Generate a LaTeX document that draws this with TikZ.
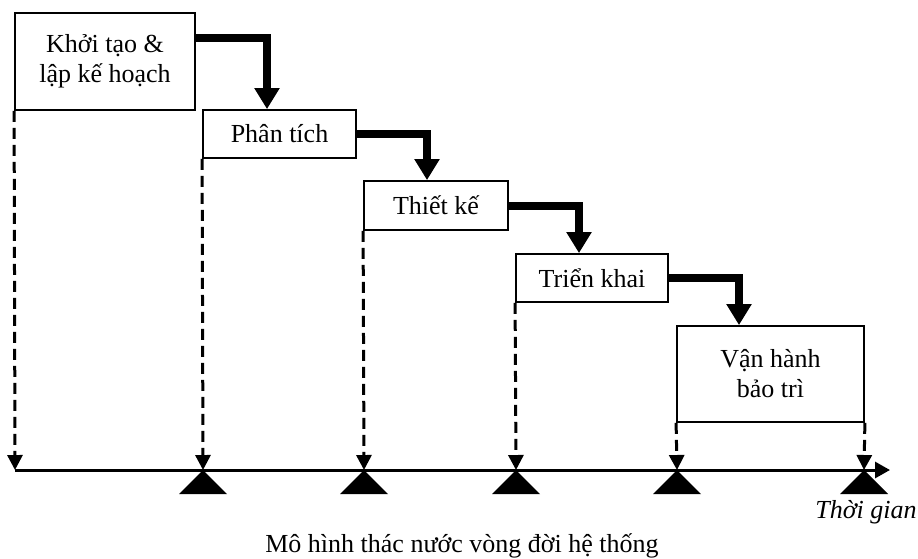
\documentclass[tikz,border=0pt]{standalone}
\usepackage{fontspec}
\setmainfont{Liberation Serif}
\usetikzlibrary{arrows.meta,positioning}

\begin{document}
\begin{tikzpicture}[x=1pt,y=-1pt,
    phase/.style={draw, line width=1.8pt, fill=white, inner sep=0pt, align=center,
      font=\fontsize{26}{30}\selectfont},
    flow/.style={line width=8pt, -{Triangle[width=24pt,length=21pt]}},
    drop/.style={line width=3pt, dash pattern=on 11pt off 6pt,
      -{Triangle[width=15pt,length=15pt]}},
    axis/.style={line width=3pt, -{Triangle[width=16pt,length=15pt]}},
    milestone/.style={fill=black}]
              \useasboundingbox (0,0) rectangle (918,558);

              \node[phase, minimum width=180pt, minimum height=97pt] at (105,61.5) (khoitao) {Khởi tạo \&\\lập kế hoạch};
              \node[phase, minimum width=153pt, minimum height=48pt] at (279.5,134) (phantich) {Phân tích};
              \node[phase, minimum width=144pt, minimum height=49pt] at (436,205.5) (thietke) {Thiết kế};
              \node[phase, minimum width=152pt, minimum height=48pt] at (592,278) (trienkhai) {Triển khai};
              \node[phase, minimum width=187pt, minimum height=96pt] at (770.5,374) (vanhanh) {Vận hành\\bảo trì};

              \coordinate (t0) at (15,470);
              \coordinate (t1) at (203,470);
              \coordinate (t2) at (364,470);
              \coordinate (t3) at (516,470);
              \coordinate (t4) at (677,470);
              \coordinate (t5) at (864,470);
              \coordinate (tend) at (890,470);

              \draw[flow] ([yshift=23.5pt]khoitao.east) -| ([xshift=-12.5pt]phantich.north);
              \draw[flow] (phantich.east) -| ([xshift=-9pt]thietke.north);
              \draw[flow] (thietke.east) -| ([xshift=-13pt]trienkhai.north);
              \draw[flow] (trienkhai.east) -| ([xshift=-31.5pt]vanhanh.north);

              \draw[drop] (khoitao.south west)--(t0);
              \draw[drop] (phantich.south west)--(t1);
              \draw[drop] (thietke.south west)--(t2);
              \draw[drop] (trienkhai.south west)--(t3);
              \draw[drop] (vanhanh.south west)--(t4);
              \draw[drop] (vanhanh.south east)--(t5);

              \draw[axis] (t0)--(tend);

              \fill[milestone] (t1) -- ++(-24,24) -- ++(48,0) -- cycle;
              \fill[milestone] (t2) -- ++(-24,24) -- ++(48,0) -- cycle;
              \fill[milestone] (t3) -- ++(-24,24) -- ++(48,0) -- cycle;
              \fill[milestone] (t4) -- ++(-24,24) -- ++(48,0) -- cycle;
              \fill[milestone] (t5) -- ++(-24,24) -- ++(48,0) -- cycle;

              \node[anchor=base, font=\fontsize{26}{30}\selectfont\itshape] at (866,518) (thoigian) {Thời gian};
              \node[anchor=base, font=\fontsize{26}{30}\selectfont] at (462,552) (caption) {Mô hình thác nước vòng đời hệ thống};
            \end{tikzpicture}
\end{document}
